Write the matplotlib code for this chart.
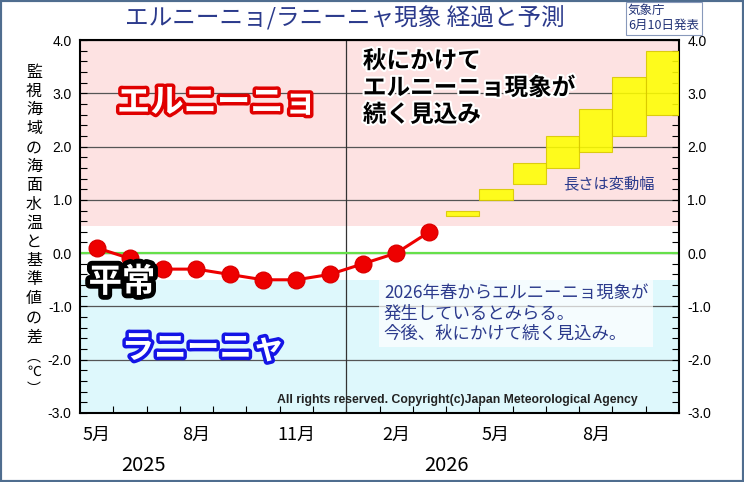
import numpy as np
import matplotlib
matplotlib.use("Agg")
from matplotlib import pyplot as plt
from matplotlib import patheffects as pe
from matplotlib.ticker import MultipleLocator, FixedLocator
from matplotlib.patches import Rectangle

plt.rcParams['font.family'] = ['Noto Sans CJK JP', 'DejaVu Sans']

# month index 0 = 2025年5月 ... 17 = 2026年10月
obs_month = [0, 1, 2, 3, 4, 5, 6, 7, 8, 9, 10]
obs_anom = [0.1, -0.1, -0.3, -0.3, -0.4, -0.5, -0.5, -0.4, -0.2, 0.0, 0.4]

fc_month = [11, 12, 13, 14, 15, 16, 17]
fc_low = [0.7, 1.0, 1.3, 1.6, 1.9, 2.2, 2.6]
fc_high = [0.8, 1.2, 1.7, 2.2, 2.7, 3.3, 3.8]

month_ticks = [0, 3, 6, 9, 12, 15]
month_labels = ['5月', '8月', '11月', '2月', '5月', '8月']
year_pos = [1.4, 10.5]
year_labels = ['2025', '2026']

NAVY = '#2b3a8c'
W, H = 744, 482

fig = plt.figure(figsize=(W / 100, H / 100), dpi=100)
fig.patch.set_facecolor('white')
ax = fig.add_axes([80 / W, 1 - 413 / H, 599 / W, 373 / H])

# background bands
ax.axhspan(0.5, 4.0, color='#fde2e2', zorder=0, lw=0)
ax.axhspan(-0.5, 0.5, color='white', zorder=0, lw=0)
ax.axhspan(-3.0, -0.5, color='#def8fc', zorder=0, lw=0)

ax.set_xlim(-0.5, 17.5)
ax.set_ylim(-3.0, 4.0)

# grid lines
ax.set_yticks(np.arange(-3, 4.1, 1))
ax.yaxis.grid(True, color='#555555', lw=0.9, zorder=1)
ax.set_axisbelow(True)
ax.axvline(7.5, color='#333333', lw=0.9, zorder=1)
ax.axhline(0, color='#66e04a', lw=1.6, zorder=2)

# forecast range
heights = np.array(fc_high) - np.array(fc_low)
ax.bar(fc_month, heights, bottom=fc_low, width=1.0, color='#ffff00',
       alpha=0.88, edgecolor='#d8c800', lw=0.8, zorder=3)

# observed
ax.plot(obs_month, obs_anom, '-o', color='#ee0000', lw=2.2, ms=12,
        mec='#dd0000', zorder=5)

# ticks
ax.set_yticklabels(['%.1f' % v for v in np.arange(-3, 4.1, 1)],
                   family=['Liberation Sans', 'DejaVu Sans'], fontsize=10)
ax.yaxis.set_minor_locator(MultipleLocator(0.2))
ax.tick_params(axis='y', which='both', direction='in', left=True, right=True,
               labelleft=True, labelright=True, length=5, width=0.8)
ax.tick_params(axis='y', which='major', pad=6)
ax.set_xticks(month_ticks)
ax.set_xticklabels(month_labels, fontsize=13)
ax.xaxis.set_minor_locator(FixedLocator(np.arange(0.5, 17.5, 1)))
ax.tick_params(axis='x', which='major', length=0, pad=9)
ax.tick_params(axis='x', which='minor', direction='in', length=5, width=0.8)
for s in ax.spines.values():
    s.set_linewidth(1.5)

for p, lab in zip(year_pos, year_labels):
    ax.text(p, -0.14, lab, transform=ax.get_xaxis_transform(), ha='center',
            va='center', fontsize=14.5)

# big labels
ax.text(3.62, 2.82, 'エルニーニョ', ha='center', va='center', fontsize=24,
        weight='bold', color='white', zorder=6,
        path_effects=[pe.Stroke(linewidth=5, foreground='#e00000'), pe.Normal()])
ax.text(3.2, -1.79, 'ラニーニャ', ha='center', va='center', fontsize=23.5,
        weight='bold', color='white', zorder=6,
        path_effects=[pe.Stroke(linewidth=5, foreground='#1414e6'), pe.Normal()])
ax.text(0.76, -0.55, '平常', ha='center', va='center', fontsize=24,
        weight='bold', color='white', zorder=6,
        path_effects=[pe.Stroke(linewidth=7, foreground='black'), pe.Normal()])
ax.text(8.0, 3.83, '秋にかけて\nエルニーニョ現象が\n続く見込み', ha='left', va='top',
        fontsize=17, weight='bold', color='black', linespacing=1.15, zorder=6,
        path_effects=[pe.Stroke(linewidth=3, foreground='white'), pe.Normal()])

ax.text(8.63, -0.57, '2026年春からエルニーニョ現象が\n発生しているとみらる。\n今後、秋にかけて続く見込み。',
        ha='left', va='top', fontsize=12.5, color=NAVY, linespacing=1.2, zorder=6,
        bbox=dict(boxstyle='square,pad=0.25', fc='white', ec='none', alpha=0.7))
ax.text(15.4, 1.31, '長さは変動幅', ha='center', va='center', fontsize=11,
        color=NAVY, zorder=6)
ax.text(10.83, -2.75, 'All rights reserved. Copyright(c)Japan Meteorological Agency',
        ha='center', va='center', fontsize=8.8, weight='bold', color='#222222',
        family=['Liberation Sans Narrow', 'Liberation Sans'], zorder=6)

# title and header
fig.text(345 / W, 1 - 18 / H, 'エルニーニョ/ラニーニャ現象 経過と予測',
         ha='center', va='center', fontsize=17, color=NAVY)
fig.text(628 / W, 1 - 18 / H, '気象庁\n6月10日発表', ha='left', va='center',
         fontsize=9, color='#223377', linespacing=1.2,
         bbox=dict(boxstyle='square,pad=0.2', fc='white', ec='#8899bb', lw=0.8))

# vertical y label, one character per row
ylab_chars = list('監視海域の海面水温と基準値の差')
for i, ch in enumerate(ylab_chars):
    fig.text(34 / W, 1 - (72 + i * 18.9) / H, ch, ha='center', va='center',
             fontsize=11.5)
for ch, py in zip(['︵', '℃', '︶'], [357, 372, 389]):
    fig.text(34 / W, 1 - py / H, ch, ha='center', va='center', fontsize=10)

# outer frame
fig.patches.append(Rectangle((0, 0), 1, 1, transform=fig.transFigure,
                             fill=False, ec='#4f6d8f', lw=3))

fig.savefig('out.png', dpi=100)
